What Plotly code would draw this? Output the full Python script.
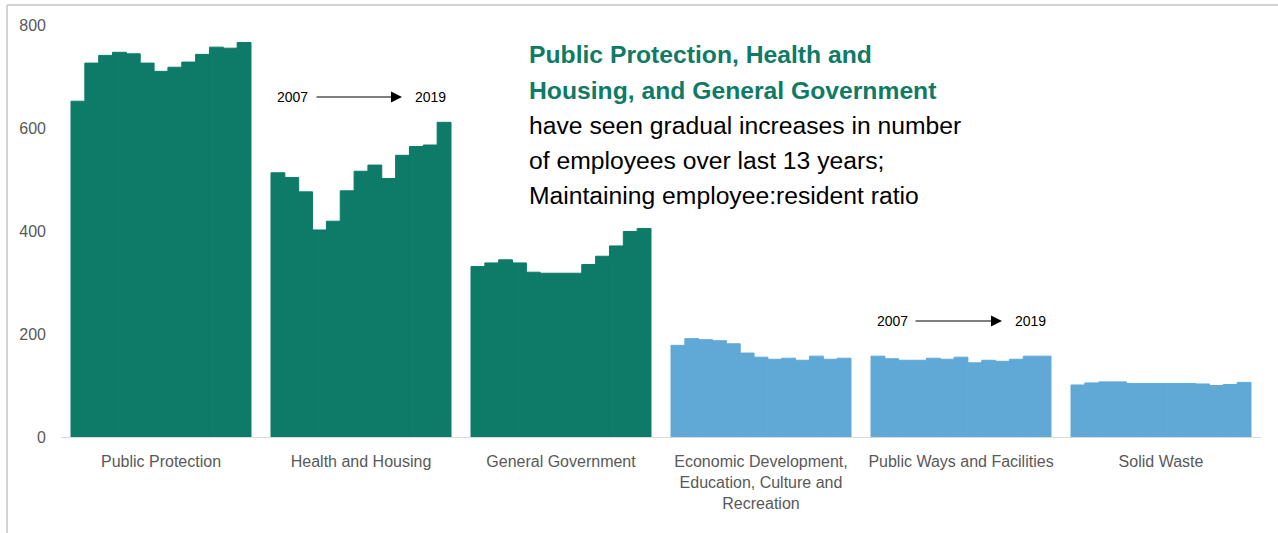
import plotly.graph_objects as go

# Departments and years
categories = [
    "Public Protection",
    "Health and Housing",
    "General Government",
    "Economic Development,<br>Education, Culture and<br>Recreation",
    "Public Ways and Facilities",
    "Solid Waste",
]
years = list(range(2007, 2020))

# Number of employees per department, 2007..2019
public_protection = [652, 726, 741, 747, 744, 726, 710, 718, 728, 743, 757, 755, 766]
health_housing = [513, 504, 476, 402, 419, 478, 516, 528, 502, 547, 564, 567, 611]
general_government = [331, 338, 344, 338, 320, 318, 318, 318, 335, 351, 371, 399, 405]
econ_dev = [178, 191, 189, 187, 181, 163, 155, 151, 153, 149, 157, 151, 153]
public_ways = [157, 152, 149, 149, 153, 151, 155, 144, 149, 147, 151, 157, 157]
solid_waste = [101, 105, 107, 107, 104, 104, 104, 104, 104, 103, 100, 102, 106]

series = [public_protection, health_housing, general_government,
          econ_dev, public_ways, solid_waste]

GREEN = "#0e7a68"
BLUE = "#60a9d7"
bar_colors = [GREEN, GREEN, GREEN, BLUE, BLUE, BLUE]

fig = go.Figure()
for i, yr in enumerate(years):
    fig.add_trace(go.Bar(
        x=categories,
        y=[s[i] for s in series],
        name=str(yr),
        marker=dict(color=bar_colors, line=dict(width=1, color=bar_colors)),
        showlegend=False,
    ))

# plot-area geometry (pixels) for placing paper-referenced items
L, R, T, B = 61, 17, 25, 96
W, H = 1278, 533
PW, PH = W - L - R, H - T - B


def px(xp):
    return (xp - L) / PW


def py(yp):
    return (H - B - yp) / PH


annotations = []

# headline text
TEXT_GREEN = "#0f7a66"
lines = [
    ("<b>Public Protection, Health and</b>", TEXT_GREEN, 55),
    ("<b>Housing, and General Government</b>", TEXT_GREEN, 90),
    ("have seen gradual increases in number", "#000000", 125),
    ("of employees over last 13 years;", "#000000", 160),
    ("Maintaining employee:resident ratio", "#000000", 195),
]
for txt, col, yc in lines:
    annotations.append(dict(
        text=txt, xref="paper", yref="paper", x=px(527), y=py(yc),
        xanchor="left", yanchor="middle", showarrow=False,
        font=dict(family="Liberation Sans, Arial", size=24.7, color=col),
    ))

# 2007 -> 2019 markers
for (x0, tail, tip, x1, yc) in [(275, 315, 402, 413, 97), (875, 914, 1002, 1013, 321)]:
    annotations.append(dict(
        text="2007", xref="paper", yref="paper", x=px(x0), y=py(yc),
        xanchor="left", yanchor="middle", showarrow=False,
        font=dict(family="Liberation Sans, Arial", size=14, color="#000000"),
    ))
    annotations.append(dict(
        text="2019", xref="paper", yref="paper", x=px(x1), y=py(yc),
        xanchor="left", yanchor="middle", showarrow=False,
        font=dict(family="Liberation Sans, Arial", size=14, color="#000000"),
    ))
    annotations.append(dict(
        text="", xref="paper", yref="paper", x=px(tip), y=py(yc),
        ax=tail - tip, ay=0, showarrow=True, arrowhead=2,
        arrowsize=2.2, arrowwidth=1, arrowcolor="#000000",
    ))

frame = dict(color="#d3d3d3", width=2)
shapes = [
    dict(type="line", xref="paper", yref="paper",
         x0=px(7), x1=px(7), y0=py(5), y1=py(533), line=frame),
    dict(type="line", xref="paper", yref="paper",
         x0=px(7), x1=px(1278), y0=py(5), y1=py(5), line=frame),
]

fig.update_layout(
    width=W, height=H,
    margin=dict(l=L, r=R, t=T, b=B, pad=0),
    paper_bgcolor="white", plot_bgcolor="white",
    barmode="group", bargap=0.1, bargroupgap=0,
    font=dict(family="Liberation Sans, Arial", size=15, color="#595959"),
    xaxis=dict(
        showgrid=False, showline=True, linecolor="#d9d9d9", linewidth=1,
        ticks="", tickfont=dict(size=16, color="#595959"),
        ticklabelstandoff=10,
    ),
    yaxis=dict(
        range=[0, 800], tickvals=[0, 200, 400, 600, 800],
        showgrid=False, zeroline=False, showline=False,
        ticks="", tickfont=dict(size=16, color="#595959"),
        ticklabelstandoff=14,
    ),
    annotations=annotations,
    shapes=shapes,
)

fig.write_html("out.html")
